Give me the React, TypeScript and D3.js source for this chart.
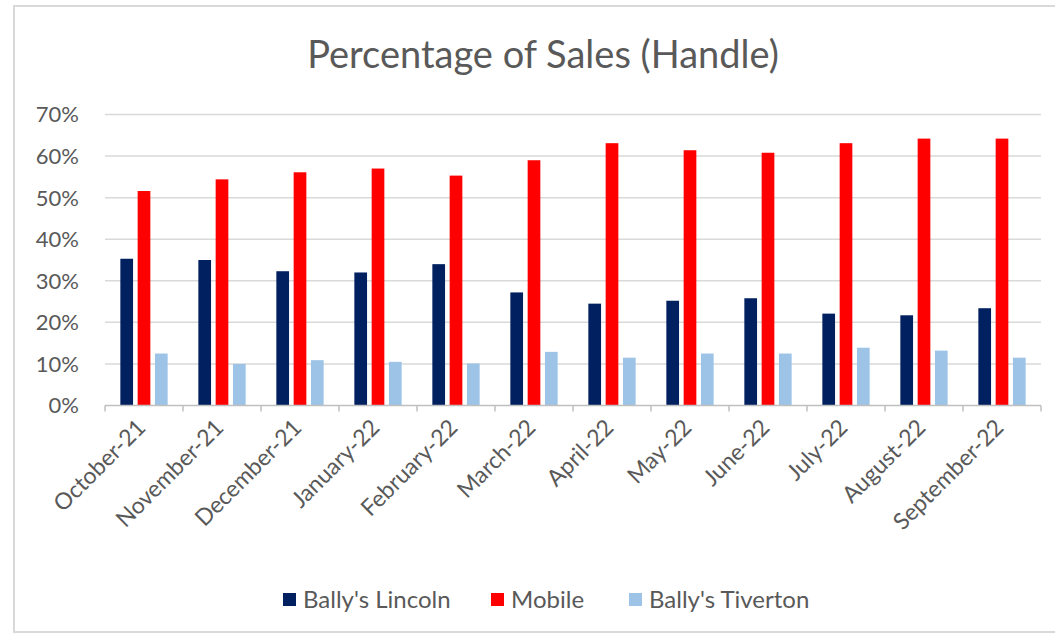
import * as d3 from 'd3';

const months = [
  'October-21', 'November-21', 'December-21', 'January-22', 'February-22', 'March-22',
  'April-22', 'May-22', 'June-22', 'July-22', 'August-22', 'September-22'
];
const seriesNames = ["Bally's Lincoln", 'Mobile', "Bally's Tiverton"];
const lincoln = [0.353, 0.350, 0.323, 0.320, 0.340, 0.272, 0.245, 0.252, 0.258, 0.221, 0.217, 0.234];
const mobile = [0.516, 0.544, 0.561, 0.570, 0.553, 0.590, 0.631, 0.614, 0.608, 0.631, 0.642, 0.642];
const tiverton = [0.125, 0.100, 0.109, 0.105, 0.101, 0.129, 0.115, 0.125, 0.125, 0.139, 0.132, 0.115];
const yTicks = [0, 0.1, 0.2, 0.3, 0.4, 0.5, 0.6, 0.7];
const colors = ['#002060', '#ff0000', '#9dc3e6'];

const W = 1055;
const H = 635;
const plot = { left: 105, right: 1041, top: 114.5, bottom: 405.5 };
const font = 'Lato, "Open Sans", sans-serif';
const textColor = '#595959';

export default function App() {
  const values = [lincoln, mobile, tiverton];
  const x = d3.scaleBand<string>().domain(months).range([plot.left, plot.right]).padding(0);
  const x1 = d3.scaleBand<string>().domain(seriesNames).range([0, 47.3]).paddingInner(0.266);
  const y = d3.scaleLinear().domain([0, 0.7]).range([plot.bottom, plot.top]);
  const fmt = d3.format('.0%');
  const offset = (x.bandwidth() - 47.3) / 2;

  const legendItems = [
    { name: seriesNames[0], x: 283 },
    { name: seriesNames[1], x: 491 },
    { name: seriesNames[2], x: 629 }
  ];

  return (
    <svg width={W} height={H} style={{ position: 'absolute', left: 0, top: 0, background: '#fff' }}>
      <rect x={14} y={6} width={1060} height={626} fill="#fff" stroke="#d9d9d9" strokeWidth={2} />
      <text x={543} y={68} textAnchor="middle" fontFamily={font} fontSize={38} fill={textColor}>
        Percentage of Sales (Handle)
      </text>
      {yTicks.map(t => (
        <g key={t}>
          {t > 0 && (
            <line x1={plot.left} x2={plot.right} y1={y(t)} y2={y(t)} stroke="#d9d9d9" strokeWidth={1.5} />
          )}
          <text x={79} y={y(t)} dy="0.36em" textAnchor="end" fontFamily={font} fontSize={22} fill={textColor}>
            {fmt(t)}
          </text>
        </g>
      ))}
      {values.map((vals, si) =>
        vals.map((v, i) => (
          <rect
            key={`${si}-${i}`}
            x={(x(months[i]) as number) + offset + (x1(seriesNames[si]) as number)}
            y={y(v)}
            width={x1.bandwidth()}
            height={y(0) - y(v)}
            fill={colors[si]}
          />
        ))
      )}
      <line x1={plot.left} x2={plot.right} y1={y(0)} y2={y(0)} stroke="#bfbfbf" strokeWidth={1.5} />
      {[...months.map(m => x(m) as number), plot.right].map((t, i) => (
        <line key={i} x1={t} x2={t} y1={y(0)} y2={y(0) + 6} stroke="#bfbfbf" strokeWidth={1.5} />
      ))}
      {months.map(m => {
        const cx = (x(m) as number) + x.bandwidth() / 2 + 3;
        const cy = 429;
        return (
          <text
            key={m}
            x={cx}
            y={cy}
            transform={`rotate(-45 ${cx} ${cy})`}
            textAnchor="end"
            fontFamily={font}
            fontSize={23}
            fill={textColor}
          >
            {m}
          </text>
        );
      })}
      {legendItems.map((it, i) => (
        <g key={it.name}>
          <rect x={it.x} y={593} width={13} height={13} fill={colors[i]} />
          <text x={it.x + 20} y={599.5} dy="0.36em" fontFamily={font} fontSize={24} fill={textColor}>
            {it.name}
          </text>
        </g>
      ))}
    </svg>
  );
}
